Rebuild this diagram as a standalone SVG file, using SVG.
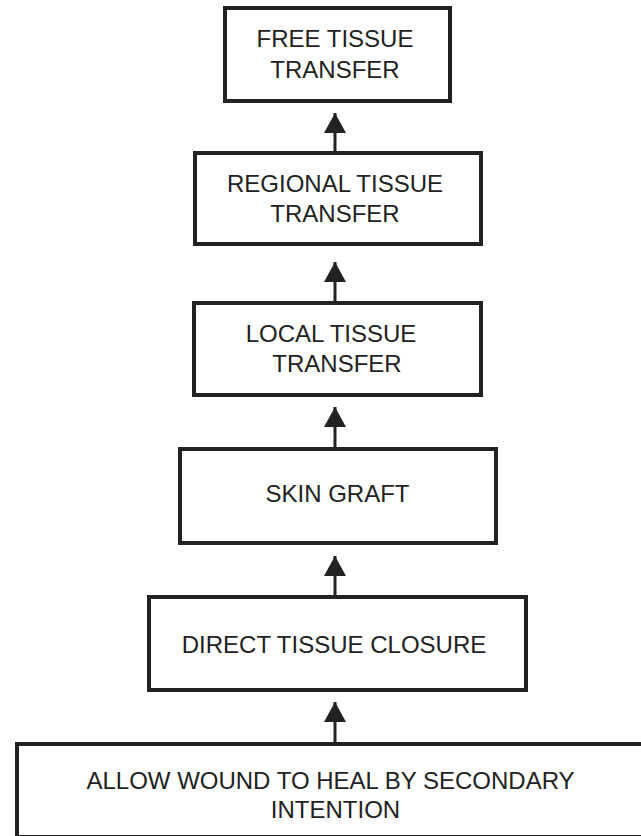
<svg xmlns="http://www.w3.org/2000/svg" width="641" height="836" viewBox="0 0 641 836">
<style>
.box{fill:#fff;stroke:#222;stroke-width:4}
.t{font-family:"Liberation Sans",Arial,sans-serif;font-size:24px;fill:#222;text-anchor:middle}
.c{stroke:#222;stroke-width:3;fill:none}
</style>
<defs>
<marker id="ah" viewBox="0 0 20 22" refX="20" refY="11" markerWidth="20" markerHeight="22" markerUnits="userSpaceOnUse" orient="auto">
<path d="M0,0 L20,11 L0,22 z" fill="#222"/>
</marker>
</defs>
<rect width="641" height="836" fill="#fff"/>
<g id="connectors">
<line class="c" x1="335" y1="151" x2="335" y2="113" marker-end="url(#ah)"/>
<line class="c" x1="335" y1="301" x2="335" y2="262" marker-end="url(#ah)"/>
<line class="c" x1="335" y1="447" x2="335" y2="407" marker-end="url(#ah)"/>
<line class="c" x1="335" y1="595" x2="335" y2="556" marker-end="url(#ah)"/>
<line class="c" x1="335" y1="742" x2="335" y2="702" marker-end="url(#ah)"/>
</g>
<g id="n1">
<rect class="box" x="225" y="8" width="225" height="93"/>
<text class="t" x="335" y="47">FREE TISSUE</text>
<text class="t" x="335" y="78">TRANSFER</text>
</g>
<g id="n2">
<rect class="box" x="195" y="153" width="286" height="91"/>
<text class="t" x="335" y="192">REGIONAL TISSUE</text>
<text class="t" x="335" y="222">TRANSFER</text>
</g>
<g id="n3">
<rect class="box" x="194" y="303" width="287" height="92"/>
<text class="t" x="331" y="342">LOCAL TISSUE</text>
<text class="t" x="337" y="372">TRANSFER</text>
</g>
<g id="n4">
<rect class="box" x="180" y="449" width="316" height="94"/>
<text class="t" x="337.5" y="502">SKIN GRAFT</text>
</g>
<g id="n5">
<rect class="box" x="149" y="597" width="377" height="93"/>
<text class="t" x="334" y="653">DIRECT TISSUE CLOSURE</text>
</g>
<g id="n6">
<rect class="box" x="17" y="744" width="650" height="93"/>
<text class="t" x="330.5" y="789">ALLOW WOUND TO HEAL BY SECONDARY</text>
<text class="t" x="335.5" y="818">INTENTION</text>
</g>
</svg>
